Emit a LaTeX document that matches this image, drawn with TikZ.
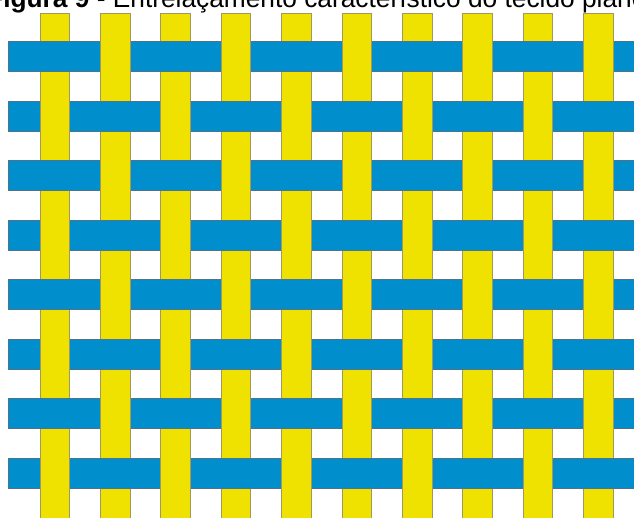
\documentclass[tikz,border=0pt]{standalone}
\usepackage{fontspec}
\setmainfont{Liberation Sans}
\definecolor{warp}{RGB}{240,226,0}
\definecolor{warpedge}{RGB}{160,152,95}
\definecolor{weft}{RGB}{0,143,204}
\definecolor{weftedge}{RGB}{80,115,140}
\tikzset{
  warpstrip/.style={fill=warp, draw=warpedge, line width=0.8pt},
  weftstrip/.style={fill=weft, draw=weftedge, line width=0.6pt},
  warpedgeline/.style={draw=warpedge, line width=0.8pt},
  titletext/.style={anchor=base west, inner sep=0pt, font=\fontsize{26.3}{30}\selectfont}
}
\begin{document}
\begin{tikzpicture}[x=1pt,y=-1pt]
\useasboundingbox (0,0) rectangle (634,518);
\clip (0,0) rectangle (634,518);
\node[titletext] (title) at (-13,7.5) {\textbf{Figura 9} - Entrelaçamento característico do tecido plano};
% warp (yellow, vertical)
\foreach \i in {0,...,9}{
  \pgfmathsetmacro{\xl}{40+60.4*\i}
  \path[warpstrip] (\xl,13) rectangle ++(29.5,520);
}
% weft (blue, horizontal)
\foreach \j in {0,...,7}{
  \pgfmathsetmacro{\yt}{41.7+59.5*\j}
  \path[weftstrip] (8,\yt) rectangle (640,\yt+29.8);
}
% warp over weft where parity says so
\foreach \j in {0,...,7}{
  \foreach \i in {0,...,9}{
    \pgfmathtruncatemacro{\wpar}{mod(\i+\j,2)}
    \ifnum\wpar=1
      \pgfmathsetmacro{\xl}{40+60.4*\i}
      \pgfmathsetmacro{\yt}{41.7+59.5*\j-1}
      \pgfmathsetmacro{\yb}{41.7+59.5*\j+30.8}
      \fill[warp] (\xl,\yt) rectangle (\xl+29.5,\yb);
      \path[warpedgeline] (\xl,\yt) -- (\xl,\yb) (\xl+29.5,\yt) -- (\xl+29.5,\yb);
    \fi
  }
}
\end{tikzpicture}
\end{document}
